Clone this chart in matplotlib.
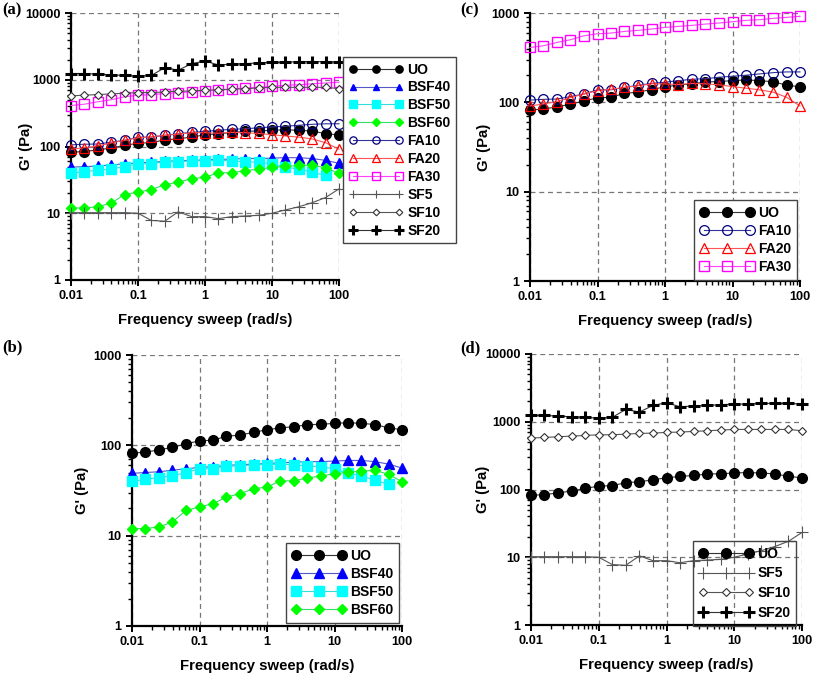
import numpy as np
import matplotlib.pyplot as plt
from matplotlib.ticker import LogLocator, FixedLocator, FixedFormatter, NullFormatter

plt.rcParams['font.family'] = ['Liberation Sans', 'DejaVu Sans']
plt.rcParams['font.weight'] = 'bold'

# frequency points (rad/s)
freq = [0.01, 0.0158, 0.0251, 0.0398, 0.0631, 0.1, 0.158, 0.251, 0.398, 0.631,
        1, 1.58, 2.51, 3.98, 6.31, 10, 15.8, 25.1, 39.8, 63.1, 100]

# G' (Pa)
uo = [82, 84, 89, 95, 104, 112, 114, 126, 130, 139, 149, 156, 161, 169, 171,
      175, 178, 175, 170, 156, 149]
bsf40 = [49, 50, 51, 53, 55, 57, 58, 60, 61, 62, 63, 64, 65, 66, 66, 67, 68,
         68, 66, 62, 56]
bsf50 = [40, 42, 44, 46, 50, 55, 55, 59, 59, 61, 61, 62, 61, 59, 58, 55, 49,
         46, 41, 37]
bsf60 = [12, 12, 12.5, 14.2, 19, 20.8, 22.6, 26.8, 29.2, 33, 34.6, 40.3, 40.5,
         43.5, 45.8, 48.6, 50.2, 52, 52.8, 47.8, 39.6]
fa10 = [106, 108, 109, 116, 124, 138, 138, 147, 155, 163, 168, 175, 181, 184,
        191, 196, 201, 208, 215, 219, 219]
fa20 = [91, 96, 102, 113, 124, 135, 140, 147, 153, 161, 161, 158, 163, 161,
        157, 150, 144, 138, 130, 114, 91]
fa30 = [411, 430, 468, 502, 556, 586, 596, 622, 639, 661, 690, 708, 727, 752,
        772, 799, 827, 841, 871, 894, 918]
sf5 = [10.2, 10.2, 10.2, 10.2, 10.2, 10, 7.8, 7.6, 10.5, 8.9, 8.9, 8.3, 8.9,
       9.1, 9.3, 10, 11.2, 12.5, 14.4, 17.2, 23.2]
sf10 = [574, 587, 600, 614, 628, 642, 642, 657, 672, 680, 696, 704, 720, 736,
        753, 770, 770, 770, 770, 770, 736]
sf20 = [1240, 1240, 1213, 1185, 1159, 1133, 1159, 1521, 1389, 1743, 1909, 1666,
        1705, 1743, 1783, 1824, 1824, 1866, 1866, 1866, 1824]

xticks = [0.01, 0.1, 1, 10, 100]
xlabels = ['0.01', '0.1', '1', '10', '100']

# style per series
styles = {
    'UO':    dict(marker='o', ms=7, mfc='black', mec='black', color='#333333'),
    'BSF40': dict(marker='^', ms=6.5, mfc='#0000ff', mec='#0000ff', color='#5555cc'),
    'BSF50': dict(marker='s', ms=7, mfc='#00ffff', mec='#00ffff', color='#33dddd'),
    'BSF60': dict(marker='D', ms=5, mfc='#00ff00', mec='#00ff00', color='#33dd66'),
    'FA10':  dict(marker='o', ms=7, mfc='none', mec='#000080', mew=0.9, color='#333399'),
    'FA20':  dict(marker='^', ms=7, mfc='none', mec='#ff0000', mew=0.9, color='#ff5555'),
    'FA30':  dict(marker='s', ms=7, mfc='none', mec='#ff00ff', mew=1.0, color='#ff44ff'),
    'SF5':   dict(marker='+', ms=8, mec='#555555', mew=0.8, color='#555555'),
    'SF10':  dict(marker='D', ms=4.5, mfc='white', mec='#333333', mew=0.8, color='#555555'),
    'SF20':  dict(marker='+', ms=9, mec='black', mew=2.2, color='#333333'),
}
series = {'UO': uo, 'BSF40': bsf40, 'BSF50': bsf50, 'BSF60': bsf60,
          'FA10': fa10, 'FA20': fa20, 'FA30': fa30,
          'SF5': sf5, 'SF10': sf10, 'SF20': sf20}

W, H = 813, 674
fig = plt.figure(figsize=(W / 100, H / 100), dpi=100)


def make_axes(l, t, r, b, ytop, ylab_x):
    ax = fig.add_axes([l / W, 1 - b / H, (r - l) / W, (b - t) / H])
    ax.set_xscale('log')
    ax.set_yscale('log')
    ax.set_xlim(0.01, 100)
    ax.set_ylim(1, ytop)
    ax.xaxis.set_major_locator(FixedLocator(xticks))
    ax.xaxis.set_major_formatter(FixedFormatter(xlabels))
    ax.xaxis.set_minor_locator(LogLocator(base=10, subs=np.arange(2, 10)))
    ax.xaxis.set_minor_formatter(NullFormatter())
    yt = [10 ** k for k in range(int(np.log10(ytop)) + 1)]
    ax.yaxis.set_major_locator(FixedLocator(yt))
    ax.yaxis.set_major_formatter(FixedFormatter([str(v) for v in yt]))
    ax.yaxis.set_minor_locator(LogLocator(base=10, subs=np.arange(2, 10)))
    ax.yaxis.set_minor_formatter(NullFormatter())
    for s in ['top', 'right']:
        ax.spines[s].set_visible(False)
    for s in ['left', 'bottom']:
        ax.spines[s].set_linewidth(1.6)
    ax.tick_params(which='major', direction='out', length=4.5, width=1.4,
                   labelsize=9.2, pad=3)
    ax.tick_params(which='minor', direction='out', length=3, width=1.0)
    ax.grid(True, which='major', linestyle=(0, (4, 3)), color='#777777',
            linewidth=0.9)
    ax.set_axisbelow(True)
    for lab in ax.get_xticklabels() + ax.get_yticklabels():
        lab.set_fontweight('bold')
    h = b - t
    ax.set_xlabel('Frequency sweep (rad/s)', fontsize=10.7, fontweight='bold')
    ax.xaxis.set_label_coords(0.5, -33 / h)
    ax.set_ylabel("G' (Pa)", fontsize=10.7, fontweight='bold')
    ax.yaxis.set_label_coords((ylab_x + 8 - l) / (r - l), 0.5)
    return ax


def draw(ax, names):
    for n in names:
        y = series[n]
        ax.plot(freq[:len(y)], y, lw=0.8, label=n, clip_on=False, zorder=3,
                **styles[n])


def legend(ax, x, y, scale=1.0, spacing=0.3, fill=True):
    leg = ax.legend(numpoints=3, handlelength=3.9, fontsize=10, fancybox=False,
                    edgecolor='#444444', framealpha=1, borderpad=0.4,
                    labelspacing=spacing, handletextpad=0.35, borderaxespad=0,
                    markerscale=scale, loc='upper left',
                    bbox_to_anchor=(x / W, 1 - y / H),
                    bbox_transform=fig.transFigure)
    leg.get_frame().set_linewidth(1.0)
    if not fill:
        leg.get_frame().set_facecolor('none')
    for t in leg.get_texts():
        t.set_fontweight('bold')
    return leg


# (a)
ax_a = make_axes(71, 13, 339, 280, 10000, 25)
draw(ax_a, ['UO', 'BSF40', 'BSF50', 'BSF60', 'FA10', 'FA20', 'FA30',
            'SF5', 'SF10', 'SF20'])
legend(ax_a, 343, 57, scale=0.75, spacing=0.28)

# (c)
ax_c = make_axes(530, 13, 800, 281, 1000, 483)
draw(ax_c, ['UO', 'FA10', 'FA20', 'FA30'])
legend(ax_c, 694, 200)

# (b)
ax_b = make_axes(132, 355, 402, 626, 1000, 81)
draw(ax_b, ['UO', 'BSF40', 'BSF50', 'BSF60'])
legend(ax_b, 286, 543)

# (d)
ax_d = make_axes(531, 354, 802, 625, 10000, 482)
draw(ax_d, ['UO', 'SF5', 'SF10', 'SF20'])
legend(ax_d, 693, 541, spacing=0.42, fill=False)

serif = ['Liberation Serif', 'DejaVu Serif']
fig.text(2 / W, 1 - 10 / H, '(a)', family=serif, fontweight='bold', fontsize=12, va='center')
fig.text(460 / W, 1 - 10 / H, '(c)', family=serif, fontweight='bold', fontsize=12, va='center')
fig.text(2 / W, 1 - 347 / H, '(b)', family=serif, fontweight='bold', fontsize=12, va='center')
fig.text(460 / W, 1 - 348 / H, '(d)', family=serif, fontweight='bold', fontsize=12, va='center')

fig.savefig('out.png', dpi=100)
